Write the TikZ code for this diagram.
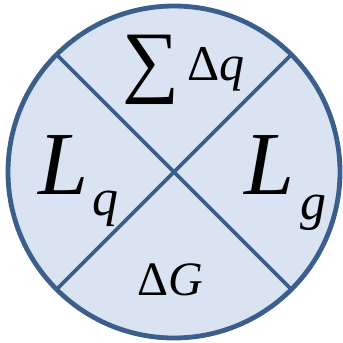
\documentclass[tikz,border=0pt]{standalone}
\usepackage{fontspec}
\setmainfont{Liberation Serif}
\usetikzlibrary{calc}
\definecolor{ringblue}{HTML}{3B5E8C}
\definecolor{fillblue}{HTML}{DAE3F1}
\newcommand{\fs}[1]{\fontsize{#1}{#1}\selectfont}
\begin{document}
\begin{tikzpicture}[x=0.5pt,y=-0.5pt,
    lab/.style={inner sep=0pt, anchor=base west}]
    \useasboundingbox (0,0) rectangle (343,343);
    % Kreis mit Mittelpunkt O
    \coordinate (O) at (174,172);
    \draw[ringblue, fill=fillblue, line width=2.4pt] (O) circle (166);

    % Kreuz durch O
    \draw[ringblue, line width=1.8pt] (O) -- ++(135:166) (O) -- ++(45:166)
        (O) -- ++(-45:166) (O) -- ++(-135:166);

    % Beschriftung oben
    \node[lab] (sum) at (122,87) {\fs{40}∑};
    \node[lab] (dq) at (187,80) {\fs{25}Δ\textit{q}};

    % links und rechts
    \node[lab] (L1) at (38,194) {\fs{45}\textit{L}};
    \node[lab] (q) at (92,215) {\fs{26}\textit{q}};
    \node[lab] (L2) at (244,194) {\fs{45}\textit{L}};
    \node[lab] (g) at (300,219) {\fs{26}\textit{g}};

    % unten
    \node[lab] (dG) at (137,295) {\fs{24}Δ\textit{G}};
\end{tikzpicture}
\end{document}
